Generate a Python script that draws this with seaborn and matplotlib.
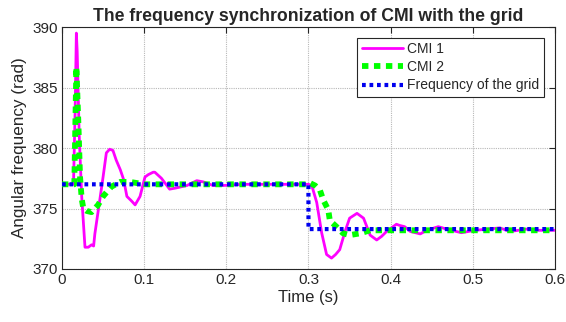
import numpy as np
import pandas as pd
import matplotlib
matplotlib.use("Agg")
import matplotlib.pyplot as plt
import seaborn as sns

# ---- data ----
t_cmi1 = [0.000, 0.014, 0.0160, 0.0175, 0.0185, 0.0210, 0.0240, 0.0280, 0.0320, 0.0360,
          0.0385, 0.0400, 0.0460, 0.0500, 0.0540, 0.0580, 0.0620, 0.0660, 0.0710, 0.0750,
          0.0790, 0.0850, 0.0890, 0.0950, 0.1010, 0.1050, 0.1110, 0.1130, 0.1210, 0.1310,
          0.1390, 0.1520, 0.1640, 0.1720, 0.1840, 0.1950, 0.2200, 0.2500, 0.2800, 0.3000,
          0.3040, 0.3100, 0.3160, 0.3220, 0.3280, 0.3330, 0.3380, 0.3440, 0.3500, 0.3590,
          0.3670, 0.3750, 0.3830, 0.3890, 0.3950, 0.4070, 0.4110, 0.4170, 0.4240, 0.4360,
          0.4440, 0.4580, 0.4680, 0.4860, 0.5030, 0.5330, 0.5450, 0.5660, 0.5800, 0.6000]
v_cmi1 = [377.0, 377.0, 383.0, 389.5, 388.0, 381.0, 376.0, 371.8, 371.8, 372.0,
          371.9, 372.9, 375.7, 377.6, 379.6, 379.9, 379.8, 379.0, 378.2, 377.4,
          376.0, 375.6, 375.3, 376.0, 377.6, 377.8, 378.0, 378.0, 377.5, 376.6,
          376.7, 376.9, 377.3, 377.2, 376.9, 376.9, 377.0, 377.0, 377.0, 377.0,
          376.9, 375.5, 373.0, 371.2, 370.9, 371.2, 371.6, 373.0, 374.2, 374.6,
          374.2, 372.8, 372.4, 372.7, 373.1, 373.7, 373.6, 373.5, 373.1, 372.9,
          373.2, 373.5, 373.3, 373.0, 373.2, 373.4, 373.1, 373.3, 373.2, 373.2]

t_cmi2 = [0.000, 0.0150, 0.0175, 0.0200, 0.0220, 0.0240, 0.0260, 0.0300, 0.0360, 0.0440,
          0.0500, 0.0600, 0.0710, 0.0830, 0.1000, 0.1500, 0.2000, 0.2500, 0.3000, 0.3020,
          0.3080, 0.3140, 0.3180, 0.3240, 0.3260, 0.3340, 0.3420, 0.3500, 0.3630, 0.3750,
          0.4000, 0.4500, 0.5000, 0.5500, 0.6000]
v_cmi2 = [377.0, 377.0, 386.7, 382.0, 377.6, 375.8, 375.0, 374.8, 374.7, 375.3,
          376.0, 376.8, 377.2, 377.2, 377.0, 377.0, 377.0, 377.0, 377.0, 377.1,
          376.9, 376.5, 375.7, 374.9, 374.0, 373.5, 372.95, 372.8, 372.95, 373.2,
          373.2, 373.2, 373.2, 373.2, 373.2]

t_grid = [0.000, 0.2999, 0.3000, 0.6000]
v_grid = [377.0, 377.0, 373.3, 373.3]

x_ticks = [0, 0.1, 0.2, 0.3, 0.4, 0.5, 0.6]
x_tick_labels = ["0", "0.1", "0.2", "0.3", "0.4", "0.5", "0.6"]
y_ticks = [370, 375, 380, 385, 390]

df1 = pd.DataFrame({"t": t_cmi1, "v": v_cmi1})
df2 = pd.DataFrame({"t": t_cmi2, "v": v_cmi2})
dfg = pd.DataFrame({"t": t_grid, "v": v_grid})

sns.set_style("white")
plt.rcParams["font.family"] = ["Liberation Sans", "DejaVu Sans"]

fig = plt.figure(figsize=(5.66, 3.22), dpi=100)
ax = fig.add_axes([0.1095, 0.1646, 0.8711, 0.7514])

sns.lineplot(data=df1, x="t", y="v", ax=ax, color="#FF00FF", lw=2.0,
             label="CMI 1", sort=False, estimator=None, zorder=3)
sns.lineplot(data=df2, x="t", y="v", ax=ax, color="#00FF00", lw=4.2,
             label="CMI 2", sort=False, estimator=None, zorder=4)
sns.lineplot(data=dfg, x="t", y="v", ax=ax, color="#0000EE", lw=3.0,
             label="Frequency of the grid", sort=False, estimator=None, zorder=5)

lines = ax.get_lines()
lines[1].set_dashes([1.1, 0.95])
lines[1].set_dash_capstyle("butt")
lines[2].set_dashes([0.9, 0.9])
lines[2].set_dash_capstyle("butt")

ax.set_xlim(0, 0.6)
ax.set_ylim(370, 390)
ax.set_xticks(x_ticks)
ax.set_xticklabels(x_tick_labels)
ax.set_yticks(y_ticks)
ax.grid(True, color="#b8b8b8", linestyle=(0, (1, 1)), linewidth=0.8)
ax.tick_params(direction="in", length=4, width=0.8, labelsize=11, colors="#262626",
               top=True, right=True, pad=3)
ax.tick_params(axis="both", labelcolor="#262626")
for s in ax.spines.values():
    s.set_color("#262626")
    s.set_linewidth(0.8)
    s.set_visible(True)

ax.set_xlabel("Time (s)", fontsize=12, color="#262626", labelpad=2)
ax.set_ylabel("Angular frequency (rad)", fontsize=12.3, color="#262626", labelpad=4)
ax.set_title("The frequency synchronization of CMI with the grid", fontsize=12.7,
             fontweight="bold", pad=4)

leg = ax.legend(loc="upper right", bbox_to_anchor=(0.977, 0.955), fontsize=10,
                frameon=True, fancybox=False, edgecolor="#262626", framealpha=1,
                handlelength=3.0, handletextpad=0.3, borderpad=0.3, labelspacing=0.3,
                borderaxespad=0)
leg.get_frame().set_linewidth(0.8)

fig.savefig("out.png", dpi=100)
